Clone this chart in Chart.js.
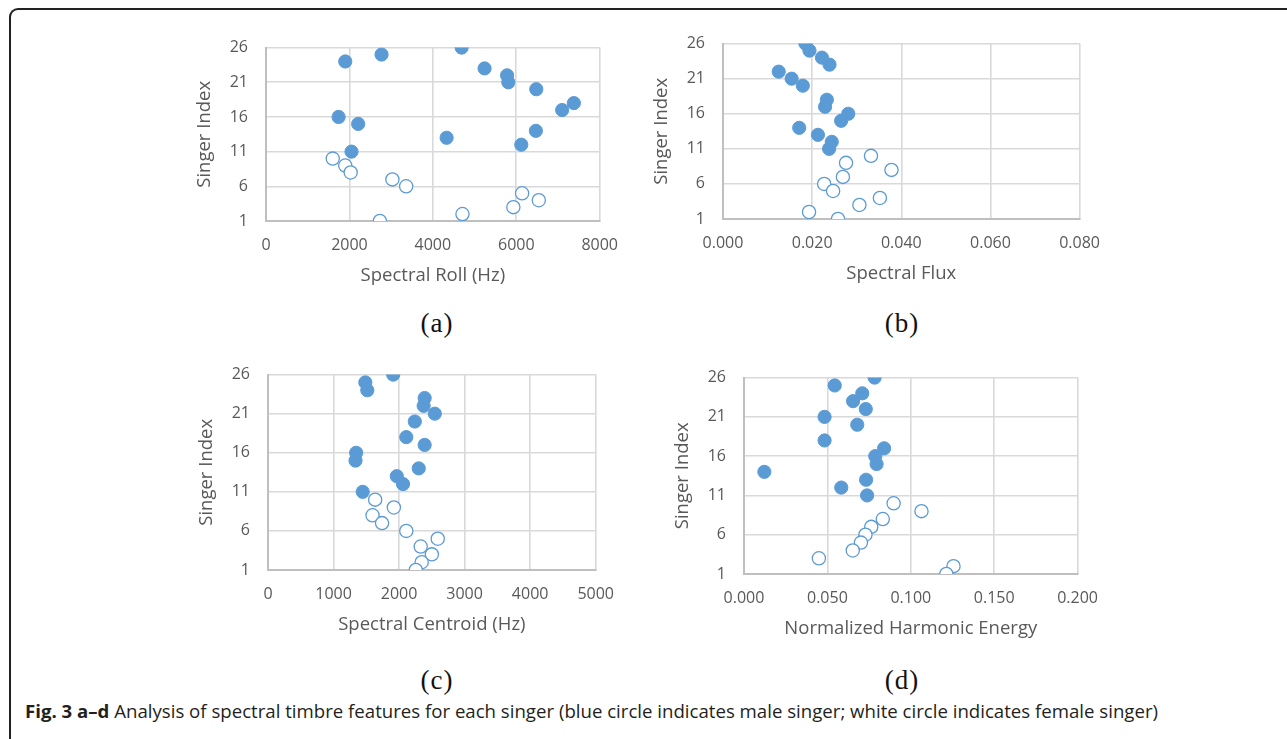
<!DOCTYPE html>
<html>
<head>
<meta charset="utf-8">
<script src="https://cdn.jsdelivr.net/npm/chart.js@4.4.1/dist/chart.umd.min.js"></script>
<style>
  html, body { margin:0; padding:0; background:#fff; }
  body { width:1287px; height:739px; position:relative; overflow:hidden; }
  .frame { position:absolute; left:9px; top:8px; width:1320px; height:800px;
           border-top:2px solid #222; border-left:2px solid #222; border-top-left-radius:9px; }
  canvas { position:absolute; }
  .sub { position:absolute; width:120px; text-align:center; font-family:"Liberation Serif", serif;
         font-size:27px; line-height:26px; color:#111; letter-spacing:1px; }
  .cap { position:absolute; left:25px; top:701px; font-family:"Open Sans", sans-serif; font-size:18.5px;
         line-height:20px; color:#231f20; white-space:nowrap; transform-origin:0 0; }
  .cap b { font-weight:700; }
</style>
</head>
<body>
<div class="frame"></div>
<canvas id="ca"></canvas>
<canvas id="cb"></canvas>
<canvas id="cc"></canvas>
<canvas id="cd"></canvas>
<div class="sub" style="left:377px;top:310px;">(a)</div>
<div class="sub" style="left:842px;top:310px;">(b)</div>
<div class="sub" style="left:377px;top:667px;">(c)</div>
<div class="sub" style="left:842px;top:667px;">(d)</div>
<div class="cap" id="cap"><b>Fig. 3 a–d</b> Analysis of spectral timbre features for each singer (blue circle indicates male singer; white circle indicates female singer)</div>
<script>
// Singer indices
const maleIdx   = [26,25,24,23,22,21,20,18,17,16,15,14,13,12,11];
const femaleIdx = [10,9,8,7,6,5,4,3,2,1];

// (a) Spectral Roll (Hz)
const rollMale   = [4690,2770,1900,5240,5780,5810,6480,7380,7100,1740,2210,6470,4330,6120,2050];
const rollFemale = [1600,1900,2030,3030,3360,6140,6540,5930,4710,2730];

// (b) Spectral Flux
const fluxMale   = [0.0185,0.0194,0.0222,0.0239,0.0125,0.0154,0.0179,0.0233,0.0229,0.0281,0.0265,0.0171,0.0213,0.0244,0.0238];
const fluxFemale = [0.0332,0.0276,0.0378,0.0269,0.0227,0.0247,0.0352,0.0306,0.0193,0.0258];

// (c) Spectral Centroid (Hz)
const centroidMale   = [1910,1485,1515,2390,2375,2545,2240,2110,2390,1345,1335,2300,1965,2060,1445];
const centroidFemale = [1635,1920,1595,1740,2110,2590,2330,2500,2345,2255];

// (d) Normalized Harmonic Energy
const harmMale   = [0.0783,0.0544,0.0709,0.0654,0.0730,0.0483,0.0679,0.0483,0.0840,0.0787,0.0795,0.0122,0.0732,0.0583,0.0738];
const harmFemale = [0.0897,0.1064,0.0832,0.0763,0.0728,0.0701,0.0652,0.0449,0.1256,0.1213];

// Tick labels
const yTicks  = ['1','6','11','16','21','26'];
const xTicksA = ['0','2000','4000','6000','8000'];
const xTicksB = ['0.000','0.020','0.040','0.060','0.080'];
const xTicksC = ['0','1000','2000','3000','4000','5000'];
const xTicksD = ['0.000','0.050','0.100','0.150','0.200'];

// Axis titles
const yTitle = 'Singer Index';
const xTitles = ['Spectral Roll (Hz)','Spectral Flux','Spectral Centroid (Hz)','Normalized Harmonic Energy'];

const BLUE = '#5b9bd5';
const TXT = '#595959';

function pts(xs, ys) { return xs.map((x, i) => ({x: x, y: ys[i]})); }

function makeChart(id, plot, xs, xTitle, xLabels, maleX, femaleX) {
  const cv = document.getElementById(id);
  const padL = 76, padT = 16, padR = 30, padB = 70;
  const w = plot.R - plot.L + padL + padR;
  const h = plot.B - plot.T + padT + padB;
  cv.style.left = (plot.L - padL) + 'px';
  cv.style.top = (plot.T - padT) + 'px';
  cv.width = w; cv.height = h;
  cv.style.width = w + 'px'; cv.style.height = h + 'px';
  new Chart(cv, {
    type: 'scatter',
    data: {
      datasets: [
        { data: pts(femaleX, femaleIdx), pointRadius: 6.6, pointHoverRadius: 6.6,
          backgroundColor: '#ffffff', borderColor: BLUE, borderWidth: 1.3 },
        { data: pts(maleX, maleIdx), pointRadius: 6.6, pointHoverRadius: 6.6,
          backgroundColor: BLUE, borderColor: BLUE, borderWidth: 1 }
      ]
    },
    options: {
      responsive: false, animation: false, devicePixelRatio: 1,
      layout: { padding: { left: 0, top: padT, right: padR, bottom: 0 } },
      plugins: { legend: { display: false }, tooltip: { enabled: false } },
      scales: {
        x: {
          type: 'linear', min: xs.min, max: xs.max,
          ticks: { stepSize: xs.step, padding: 15, color: TXT, font: { family: 'Open Sans', size: 16 },
                   maxRotation: 0, autoSkip: false,
                   callback: (v, i) => xLabels[i] },
          grid: { color: '#d9d9d9', lineWidth: 1.6, drawTicks: false },
          border: { color: '#bfbfbf', width: 2 },
          title: { display: true, text: xTitle, color: TXT, font: { family: 'Open Sans', size: 18.5 },
                   padding: { top: 0, bottom: 4 } },
          afterFit: s => { s.height = padB; }
        },
        y: {
          type: 'linear', min: 1, max: 26,
          ticks: { stepSize: 5, padding: 18, color: TXT, font: { family: 'Open Sans', size: 16 },
                   autoSkip: false, callback: (v, i) => yTicks[i] },
          grid: { color: '#d9d9d9', lineWidth: 1.6, drawTicks: false },
          border: { color: '#bfbfbf', width: 2 },
          title: { display: true, text: yTitle, color: TXT, font: { family: 'Open Sans', size: 18.5 },
                   padding: { top: 4, bottom: 0 } },
          afterFit: s => { s.width = padL; }
        }
      }
    }
  });
}

makeChart('ca', {L:266, R:603, T:36, B:221}, {min:0, max:8000, step:2000}, xTitles[0], xTicksA, rollMale, rollFemale);
makeChart('cb', {L:723, R:1085, T:32, B:219}, {min:0, max:0.08, step:0.02}, xTitles[1], xTicksB, fluxMale, fluxFemale);
makeChart('cc', {L:268, R:599, T:363, B:570}, {min:0, max:5000, step:1000}, xTitles[2], xTicksC, centroidMale, centroidFemale);
makeChart('cd', {L:744, R:1083, T:366, B:574}, {min:0, max:0.2, step:0.05}, xTitles[3], xTicksD, harmMale, harmFemale);

// fit caption width to reference
const cap = document.getElementById('cap');
const cw = cap.getBoundingClientRect().width;
cap.style.transform = 'scaleX(' + (1133 / cw) + ')';
</script>
</body>
</html>
